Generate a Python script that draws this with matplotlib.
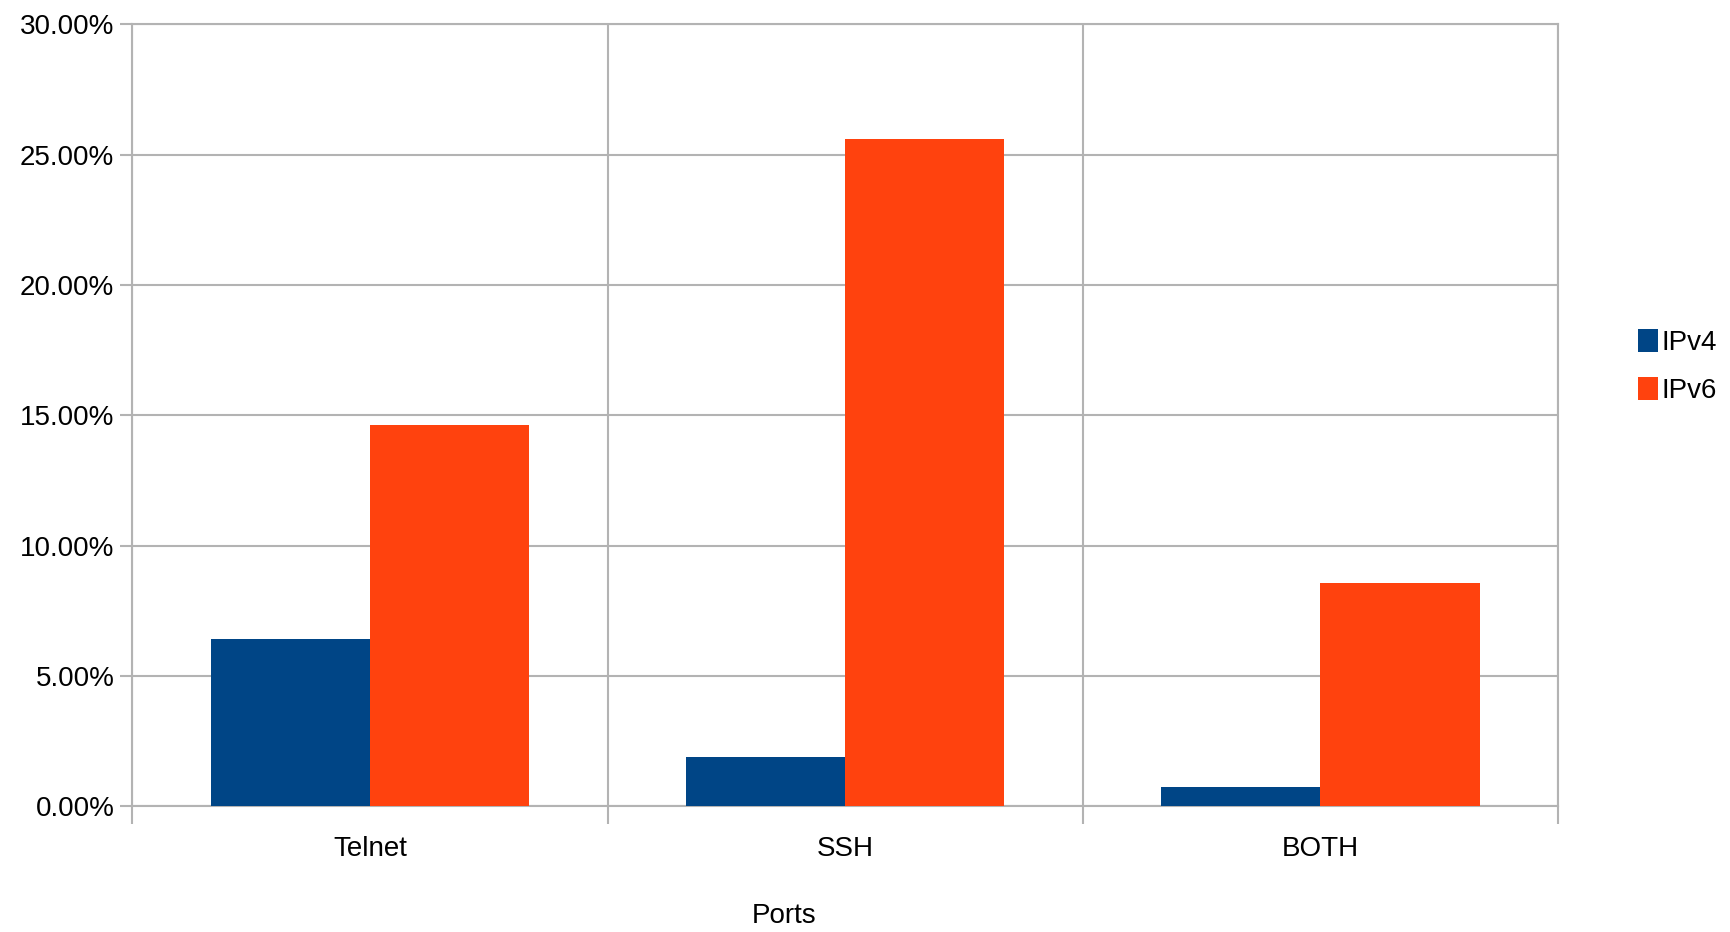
import numpy as np
import matplotlib.pyplot as plt
from matplotlib.ticker import FuncFormatter

# data (percent)
ports = ["Telnet", "SSH", "BOTH"]
ipv4 = [6.43, 1.90, 0.73]
ipv6 = [14.65, 25.62, 8.58]
yticks = [0, 5, 10, 15, 20, 25, 30]

plt.rcParams['font.family'] = ['Liberation Sans', 'DejaVu Sans']

fig = plt.figure(figsize=(17.3, 9.32), dpi=100)
ax = fig.add_axes([0.0765, 0.1347, 0.8241, 0.8392])

x = np.arange(len(ports)) + 0.5
w = 0.335
ax.bar(x - w / 2, ipv4, w, color='#004586', label='IPv4', zorder=3)
ax.bar(x + w / 2, ipv6, w, color='#ff420e', label='IPv6', zorder=3)

ax.set_xlim(0, len(ports))
ax.set_ylim(0, 30)
ax.set_yticks(yticks)
ax.yaxis.set_major_formatter(FuncFormatter(lambda v, p: f"{v:.2f}%"))

# boundaries get tick marks + grid, centres get the labels
ax.set_xticks(np.arange(len(ports) + 1))
ax.set_xticklabels([])
ax.set_xticks(x, minor=True)
ax.set_xticklabels(ports, minor=True)
ax.tick_params(axis='x', which='major', length=13, color='#b3b3b3', width=1.5)
ax.tick_params(axis='x', which='minor', length=0, labelsize=20, pad=21)
ax.tick_params(axis='y', length=9, color='#b3b3b3', width=1.5, labelsize=20, pad=4)

ax.grid(True, which='major', color='#b3b3b3', linewidth=1.5, zorder=0)
for s in ax.spines.values():
    s.set_color('#b3b3b3')
    s.set_linewidth(1.5)

# axis title sits a bit left of centre in the original
ax.text(0.457, -0.14, "Ports", transform=ax.transAxes, fontsize=20,
        ha='center', va='center')

fig.legend(loc='center left', bbox_to_anchor=(0.939, 0.607), frameon=False,
           fontsize=20, handlelength=0.7, handleheight=0.9, handletextpad=0.15,
           labelspacing=0.75, borderpad=0)

fig.savefig("out.png", dpi=100)
